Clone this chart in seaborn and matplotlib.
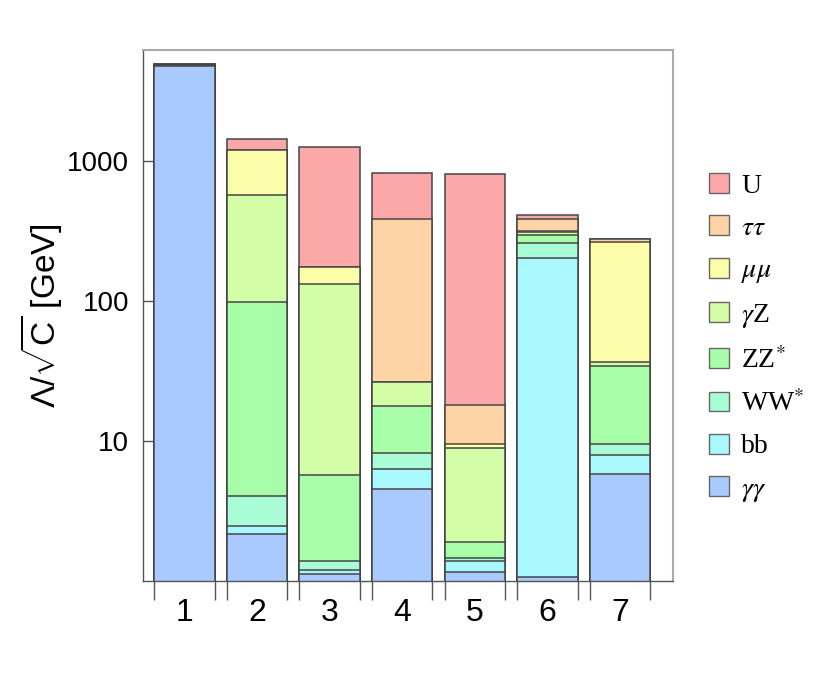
import pandas as pd
import seaborn as sns
import matplotlib.pyplot as plt
from matplotlib.patches import Patch

# benchmark points on the x axis
points = ["1", "2", "3", "4", "5", "6", "7"]

# contribution of each channel to the stacked bar
gaga = [4780, 2.18, 1.12, 4.52, 1.165, 1.07, 5.81]
bb = [20, 0.29, 0.07, 1.76, 0.225, 200.9, 2.09]
ww = [20, 1.6, 0.19, 1.97, 0.06, 59, 1.66]
zz = [20, 94.3, 4.31, 9.65, 0.46, 33, 24.9]
gaz = [30, 474, 125.9, 8.6, 6.96, 17, 2.4]
mumu = [20, 627, 42.4, 0, 0.6, 7, 228]
tautau = [20, 5, 0, 356.5, 8.53, 65, 12]
unk = [20, 224, 1079, 442, 786, 28, 2]

channels = ["gaga", "bb", "ww", "zz", "gaz", "mumu", "tautau", "unk"]
labels = {
    "gaga": r"$\gamma\gamma$",
    "bb": "bb",
    "ww": r"WW$^{*}$",
    "zz": r"ZZ$^{*}$",
    "gaz": r"$\gamma$Z",
    "mumu": r"$\mu\mu$",
    "tautau": r"$\tau\tau$",
    "unk": "U",
}
colors = {
    "gaga": "#a8cafe",
    "bb": "#a8f8fe",
    "ww": "#a8fdd6",
    "zz": "#a8fda8",
    "gaz": "#d3fda6",
    "mumu": "#fbfda8",
    "tautau": "#fed3a6",
    "unk": "#fda8a8",
}

df = pd.DataFrame({"point": points, "gaga": gaga, "bb": bb, "ww": ww, "zz": zz,
                   "gaz": gaz, "mumu": mumu, "tautau": tautau, "unk": unk})
cum = df[channels].cumsum(axis=1)
cum["point"] = df["point"]

sns.set_theme(style="white")
plt.rcParams["font.family"] = ["Liberation Sans", "DejaVu Sans"]
plt.rcParams["mathtext.fontset"] = "custom"
plt.rcParams["mathtext.rm"] = "Liberation Sans"
plt.rcParams["mathtext.it"] = "Liberation Sans:italic"
plt.rcParams["text.color"] = "black"
plt.rcParams["axes.labelcolor"] = "black"
plt.rcParams["xtick.color"] = "black"
plt.rcParams["ytick.color"] = "black"

fig = plt.figure(figsize=(8.3, 6.81), dpi=100)
ax = fig.add_axes([0.1723, 0.1468, 0.8108 - 0.1723, 0.9266 - 0.1468])

edge = "#454545"
# draw from the top of the stack down so each layer covers the one above
for ch in channels[::-1]:
    sns.barplot(data=cum, x="point", y=ch, color=colors[ch], saturation=1,
                edgecolor=edge, linewidth=1.1, width=0.833, errorbar=None, ax=ax)

ax.set_yscale("log")
ax.set_ylim(1, 6210)
ax.set_xlim(-0.572, 6.73)
ax.set_yticks([10, 100, 1000])
ax.set_yticklabels(["10", "100", "1000"])
ax.yaxis.set_minor_locator(plt.NullLocator())
ax.tick_params(axis="y", which="major", direction="in", length=7, width=1,
               color="#555555", labelcolor="black", labelsize=20, pad=10, left=True)
ax.set_xticks(range(len(points)))
ax.set_xticklabels(points)
ax.set_xticks([i + s * 0.4165 for i in range(len(points)) for s in (-1, 1)], minor=True)
ax.tick_params(axis="x", which="major", length=0, labelsize=23, pad=12, labelcolor="black")
ax.tick_params(axis="x", which="minor", direction="out", length=14, width=1,
               color="#555555", bottom=True)

ax.set_xlabel("")
ax.set_ylabel(r"$\Lambda/\sqrt{\mathrm{C}}$ [GeV]", fontsize=24, labelpad=2, color="black")

for side in ["left", "bottom"]:
    ax.spines[side].set_color("#555555")
    ax.spines[side].set_linewidth(1.0)
for side in ["top", "right"]:
    ax.spines[side].set_color("#aaaaaa")
    ax.spines[side].set_linewidth(1.5)

handles = [Patch(facecolor=colors[ch], edgecolor="#666666", linewidth=1.0) for ch in channels[::-1]]
leg_labels = [labels[ch] for ch in channels[::-1]]
leg = fig.legend(handles, leg_labels, loc="center left", bbox_to_anchor=(0.854, 0.503),
                 frameon=False, handlelength=0.72, handleheight=0.72,
                 handletextpad=0.45, labelspacing=0.6, borderpad=0, borderaxespad=0,
                 prop={"family": "Liberation Serif", "size": 20})
for t in leg.get_texts():
    t.set_math_fontfamily("stix")
    t.set_color("black")

fig.savefig("out.png", dpi=100)
